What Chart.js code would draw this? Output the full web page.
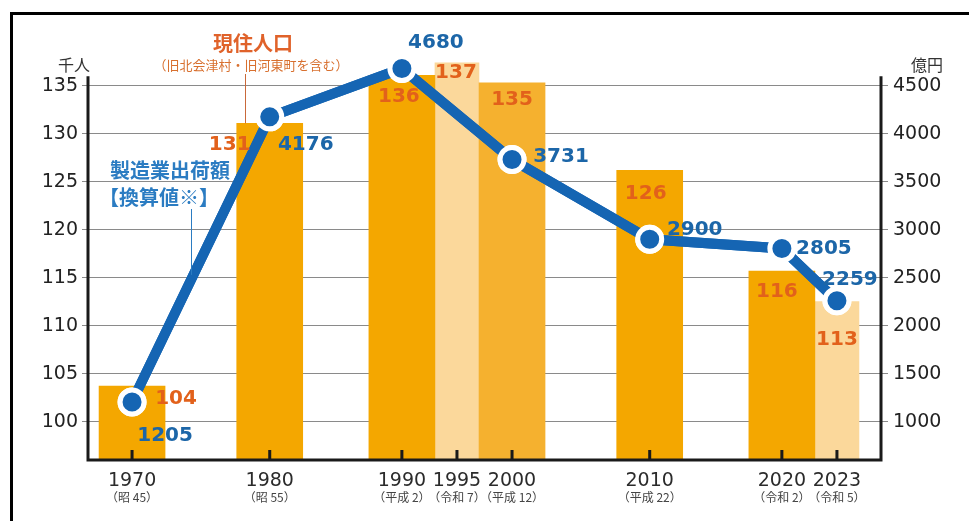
<!DOCTYPE html>
<html lang="ja">
<head>
<meta charset="utf-8">
<script src="https://cdn.jsdelivr.net/npm/chart.js@4.4.1/dist/chart.umd.min.js"></script>
<style>
  html, body { margin: 0; padding: 0; background: #fff; }
  #wrap { width: 969px; height: 521px; }
</style>
</head>
<body>
<div id="wrap"><canvas id="chart" width="969" height="521"></canvas></div>
<script>
// data
const years = ['1970', '1980', '1990', '1995', '2000', '2010', '2020', '2023'];
const eras = ['（昭 45）', '（昭 55）', '（平成 2）', '（令和 7）', '（平成 12）', '（平成 22）', '（令和 2）', '（令和 5）'];
const population = [103.7, 131.1, 136.1, 137.4, 135.3, 126.2, 115.7, 112.5]; // 千人
const shipments = [1205, 4176, 4680, null, 3731, 2900, 2805, 2259];        // 億円
const estimated = [false, false, false, true, false, false, false, true];
const popTicks = [100, 105, 110, 115, 120, 125, 130, 135];
const shipTicks = [1000, 1500, 2000, 2500, 3000, 3500, 4000, 4500];

// x layout: the years sit on an uneven grid, so they are put on slots of a fine category axis
const slotCount = 145;
const slots = [8, 33, 57, 67, 77, 102, 126, 136];

// styles
const barColors = ['#f4a700', '#f4a700', '#f4a700', '#fbd89b', '#f5b12f', '#f4a700', '#f4a700', '#fbd89b'];
const ORANGE = '#e2611b';
const BLUE = '#1c66a8';
const LINE = '#1565b3';
const popLabelOffset = [[44, 13], [-40, 22], [-3, 22], [-1, 10], [0, 17], [-4, 24], [-5, 21], [0, 38]];
const shipLabelOffset = [[33, 34], [36, 28], [34, -26], null, [49, -3], [45, -10], [42, 0], [13, -21]];

const labels = Array(slotCount).fill('');
slots.forEach((s, i) => { labels[s] = years[i]; });

function spread(values, keep) {
  const out = Array(slotCount).fill(null);
  slots.forEach((s, i) => { if (keep(i)) out[s] = values[i]; });
  return out;
}

const slotColors = Array(slotCount).fill('#f4a700');
slots.forEach((s, i) => { slotColors[s] = barColors[i]; });

Chart.defaults.font.family = "'DejaVu Sans', 'Noto Sans CJK JP', sans-serif";

const overlay = {
  id: 'overlay',
  afterDraw(chart) {
    const ctx = chart.ctx;
    const xs = chart.scales.x, ys = chart.scales.y, ys1 = chart.scales.y1;
    const area = chart.chartArea;

    // line above the gridlines
    chart.getDatasetMeta(0).controller.draw();

    ctx.save();
    // axes
    ctx.strokeStyle = '#1a1a1a';
    ctx.lineWidth = 3;
    const axisTop = ys.getPixelForValue(136);
    ctx.beginPath();
    ctx.moveTo(area.left, axisTop); ctx.lineTo(area.left, area.bottom + 1.5);
    ctx.moveTo(area.right, axisTop); ctx.lineTo(area.right, area.bottom + 1.5);
    ctx.moveTo(area.left - 1.5, area.bottom); ctx.lineTo(area.right + 1.5, area.bottom);
    ctx.stroke();
    // x tick marks
    ctx.beginPath();
    slots.forEach(s => {
      const px = xs.getPixelForValue(s);
      ctx.moveTo(px, area.bottom - 10); ctx.lineTo(px, area.bottom);
    });
    ctx.stroke();

    // x labels
    ctx.textAlign = 'center';
    ctx.textBaseline = 'middle';
    slots.forEach((s, i) => {
      const px = xs.getPixelForValue(s);
      ctx.fillStyle = '#2b2b2b';
      ctx.font = "19px 'DejaVu Sans'";
      ctx.fillText(years[i], px, area.bottom + 21);
      ctx.fillStyle = '#444';
      ctx.font = "12px 'Noto Sans CJK JP'";
      ctx.fillText(eras[i], px, area.bottom + 37);
    });

    // units
    ctx.fillStyle = '#333';
    ctx.font = "16px 'Noto Sans CJK JP'";
    ctx.fillText('千人', 74, 65);
    ctx.fillText('億円', 927, 65);

    // value labels
    ctx.font = "bold 20px 'DejaVu Sans'";
    slots.forEach((s, i) => {
      const px = xs.getPixelForValue(s);
      const [dx, dy] = popLabelOffset[i];
      ctx.fillStyle = ORANGE;
      ctx.fillText(String(Math.round(population[i])), px + dx, ys.getPixelForValue(population[i]) + dy);
      if (shipments[i] !== null) {
        const [ex, ey] = shipLabelOffset[i];
        ctx.fillStyle = BLUE;
        ctx.fillText(String(shipments[i]), px + ex, ys1.getPixelForValue(shipments[i]) + ey);
      }
    });

    // population annotation
    ctx.fillStyle = '#e0622a';
    ctx.font = "bold 20px 'Noto Sans CJK JP'";
    ctx.fillText('現住人口', 253, 43);
    ctx.fillStyle = '#d8702f';
    ctx.font = "13px 'Noto Sans CJK JP'";
    ctx.fillText('（旧北会津村・旧河東町を含む）', 251, 65);
    ctx.strokeStyle = '#c9693a';
    ctx.lineWidth = 1;
    ctx.beginPath();
    ctx.moveTo(245.5, 74);
    ctx.lineTo(245.5, ys.getPixelForValue(population[1]));
    ctx.stroke();

    // shipments annotation
    ctx.fillStyle = '#2b7cc2';
    ctx.font = "bold 20px 'Noto Sans CJK JP'";
    ctx.fillText('製造業出荷額', 170, 170);
    ctx.fillText('【換算値※】', 159, 197);
    const x0 = xs.getPixelForValue(slots[0]), x1 = xs.getPixelForValue(slots[1]);
    const v0 = ys1.getPixelForValue(shipments[0]), v1 = ys1.getPixelForValue(shipments[1]);
    const lx = 191;
    const ly = v0 + (v1 - v0) * (lx - x0) / (x1 - x0);
    ctx.strokeStyle = '#2b7cc2';
    ctx.beginPath();
    ctx.moveTo(lx + 0.5, 209);
    ctx.lineTo(lx + 0.5, ly - 5);
    ctx.stroke();

    // frame
    ctx.strokeStyle = '#000';
    ctx.lineWidth = 3;
    ctx.beginPath();
    ctx.moveTo(11.5, 521); ctx.lineTo(11.5, 13.5); ctx.lineTo(969, 13.5);
    ctx.stroke();
    ctx.restore();
  }
};

new Chart(document.getElementById('chart'), {
  type: 'bar',
  data: {
    labels: labels,
    datasets: [
      {
        type: 'line',
        label: '製造業出荷額',
        data: spread(shipments, i => shipments[i] !== null),
        yAxisID: 'y1',
        spanGaps: true,
        borderColor: LINE,
        borderWidth: 10,
        tension: 0,
        pointRadius: 12,
        pointBackgroundColor: LINE,
        pointBorderColor: '#fff',
        pointBorderWidth: 5,
      },
      {
        label: '現住人口',
        data: spread(population, i => !estimated[i]),
        yAxisID: 'y',
        backgroundColor: slotColors,
        barThickness: 66,
        grouped: false,
      },
      {
        label: '現住人口（推計）',
        data: spread(population, i => estimated[i]),
        yAxisID: 'y',
        backgroundColor: slotColors,
        barThickness: 44,
        grouped: false,
      },
    ],
  },
  options: {
    responsive: false,
    animation: false,
    layout: { padding: { top: 57, left: 0, right: 0, bottom: 0 } },
    plugins: { legend: { display: false }, tooltip: { enabled: false } },
    scales: {
      x: {
        offset: false,
        grid: { display: false },
        border: { display: false },
        ticks: { display: false },
        afterFit: s => { s.height = 61; },
      },
      y: {
        position: 'left',
        min: 96,
        max: 138,
        z: 1,
        afterBuildTicks: s => { s.ticks = popTicks.map(v => ({ value: v })); },
        afterFit: s => { s.width = 88; },
        border: { display: false },
        grid: { color: '#8a8a8a', lineWidth: 1, tickLength: 6, tickColor: '#8a8a8a' },
        ticks: { color: '#222', font: { size: 19 }, padding: 4, callback: v => String(v) },
      },
      y1: {
        position: 'right',
        min: 600,
        max: 4800,
        afterBuildTicks: s => { s.ticks = shipTicks.map(v => ({ value: v })); },
        afterFit: s => { s.width = 88; },
        border: { display: false },
        grid: { drawOnChartArea: false, tickLength: 7, tickColor: '#8a8a8a' },
        ticks: { color: '#222', font: { size: 19 }, padding: 5, callback: v => String(v) },
      },
    },
  },
  plugins: [overlay],
});
</script>
</body>
</html>
